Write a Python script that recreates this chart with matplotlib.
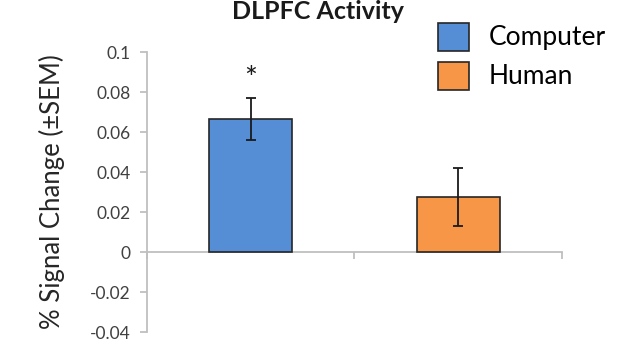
import numpy as np
import matplotlib.pyplot as plt

# data
groups = ['Computer', 'Human']
values = [0.0665, 0.0275]
sem = [0.0105, 0.0145]
colors = ['#558ed5', '#f79646']

plt.rcParams['font.family'] = ['Lato', 'DejaVu Sans']

fig = plt.figure(figsize=(6.21, 3.5), dpi=100)
ax = fig.add_axes([0.2367, 0.0514, 0.6683, 0.7996])

x = np.arange(len(groups))
bars = ax.bar(x, values, width=0.4, color=colors, edgecolor='#262626',
              linewidth=1.2, label=groups, zorder=3)
ax.errorbar(x, values, yerr=sem, fmt='none', ecolor='#1a1a1a',
            elinewidth=1.3, capsize=3.5, capthick=1.3, zorder=4)

# significance star
ax.text(x[0], values[0] + sem[0] + 0.0095, '*', ha='center', va='center',
        fontsize=22, color='#1a1a1a')

ax.set_xlim(-0.5, 1.5)
ax.set_ylim(-0.04, 0.1)
ax.set_yticks(np.arange(-0.04, 0.101, 0.02))
ax.set_yticklabels(['-0.04', '-0.02', '0', '0.02', '0.04', '0.06', '0.08', '0.1'])
ax.set_xticks([-0.5, 0.5, 1.5])
ax.set_xticklabels([])

for s in ['top', 'right']:
    ax.spines[s].set_visible(False)
ax.spines['bottom'].set_position(('data', 0))
ax.spines['left'].set_color('#bfbfbf')
ax.spines['bottom'].set_color('#bfbfbf')
ax.spines['left'].set_linewidth(1.3)
ax.spines['bottom'].set_linewidth(1.3)
ax.tick_params(axis='both', color='#bfbfbf', width=1.3, length=5,
               labelsize=12.5, labelcolor='#404040')
ax.tick_params(axis='y', pad=7)

ax.set_ylabel('% Signal Change (±SEM)', fontsize=18.5, color='#262626', labelpad=18)

fig.text(0.512, 1.0, 'DLPFC Activity', ha='center', va='top',
         fontsize=18, fontweight='bold', color='#1a1a1a')

fig.legend(handles=bars, labels=groups, loc='upper left',
           bbox_to_anchor=(0.676, 0.988), frameon=False, fontsize=19,
           handlelength=1.17, handleheight=1.25, handletextpad=0.75,
           labelspacing=0.42, borderpad=0.2)

fig.savefig('out.png', dpi=100)
